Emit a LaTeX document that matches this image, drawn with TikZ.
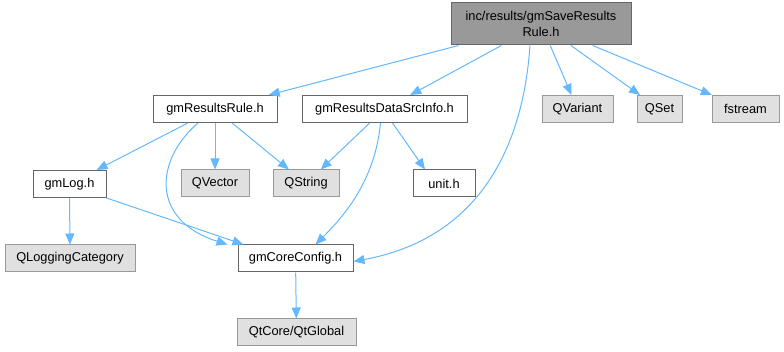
\documentclass[tikz,border=0pt]{standalone}
\usepackage{fontspec}
\setmainfont{Liberation Sans}
\usetikzlibrary{arrows.meta}
\definecolor{edgeblue}{HTML}{63B8FF}
\definecolor{rootfill}{HTML}{999999}
\definecolor{darkbord}{HTML}{666666}
\definecolor{extfill}{HTML}{E0E0E0}
\definecolor{extbord}{HTML}{999999}
\tikzset{
  base/.style={rectangle, inner sep=0pt, line width=1pt, minimum height=27pt,
    font=\fontsize{12.8}{16}\selectfont, text=black},
  rootbox/.style={base, draw=darkbord, fill=rootfill, align=center},
  filebox/.style={base, draw=darkbord, fill=white},
  extbox/.style={base, draw=extbord, fill=extfill},
  dep/.style={draw=edgeblue, line width=1pt, -{Triangle[length=11pt,width=9pt]}},
}
\begin{document}
\begin{tikzpicture}[x=1pt,y=-1pt]
\useasboundingbox (0,0) rectangle (784,352);
\node[rootbox, minimum width=180pt, minimum height=42pt] (root) at (541,24) {inc/results/gmSaveResults\\Rule.h};
\node[filebox, minimum width=124pt] (rr) at (215,109) {gmResultsRule.h};
\node[filebox, minimum width=165pt] (rd) at (384.5,109) {gmResultsDataSrcInfo.h};
\node[extbox, minimum width=71pt] (qvar) at (577.5,109) {QVariant};
\node[extbox, minimum width=45pt] (qset) at (659.5,109) {QSet};
\node[extbox, minimum width=67pt] (fstr) at (745.5,109) {fstream};
\node[extbox, minimum width=68pt] (qvec) at (215,183.5) {QVector};
\node[extbox, minimum width=66pt] (qstr) at (306,183.5) {QString};
\node[filebox, minimum width=62pt] (unit) at (444,183.5) {unit.h};
\node[filebox, minimum width=73pt] (log) at (69.5,184) {gmLog.h};
\node[extbox, minimum width=130pt] (qlog) at (70,258.5) {QLoggingCategory};
\node[filebox, minimum width=115pt] (core) at (295.5,258.5) {gmCoreConfig.h};
\node[extbox, minimum width=119pt] (qt) at (296.5,332.5) {QtCore/QtGlobal};

\draw[dep] (root) -- (rr);
\draw[dep] (root) -- (rd);
\draw[dep] (root) -- (qvar);
\draw[dep] (root) -- (qset);
\draw[dep] (root) -- (fstr);
\draw[dep] ([xshift=-11pt]root.south) .. controls (522,160) and (470,240) .. ([yshift=-3pt]core.east);
\draw[dep] (rr) -- (log);
\draw[dep] (rr) -- (qvec);
\draw[dep] (rr) -- (qstr);
\draw[dep] ([xshift=-17pt]rr.south) .. controls (155,160) and (150,220) .. ([xshift=-68pt]core.north);
\draw[dep] (rd) -- (qstr);
\draw[dep] ([xshift=8pt]rd.south) -- ([xshift=-19pt]unit.north);
\draw[dep] ([xshift=-4pt]rd.south) .. controls (375,180) and (345,215) .. ([xshift=20pt]core.north);
\draw[dep] (log) -- (qlog);
\draw[dep] (log.south east) -- ([xshift=-52pt]core.north);
\draw[dep] (core) -- (qt);
\end{tikzpicture}
\end{document}
